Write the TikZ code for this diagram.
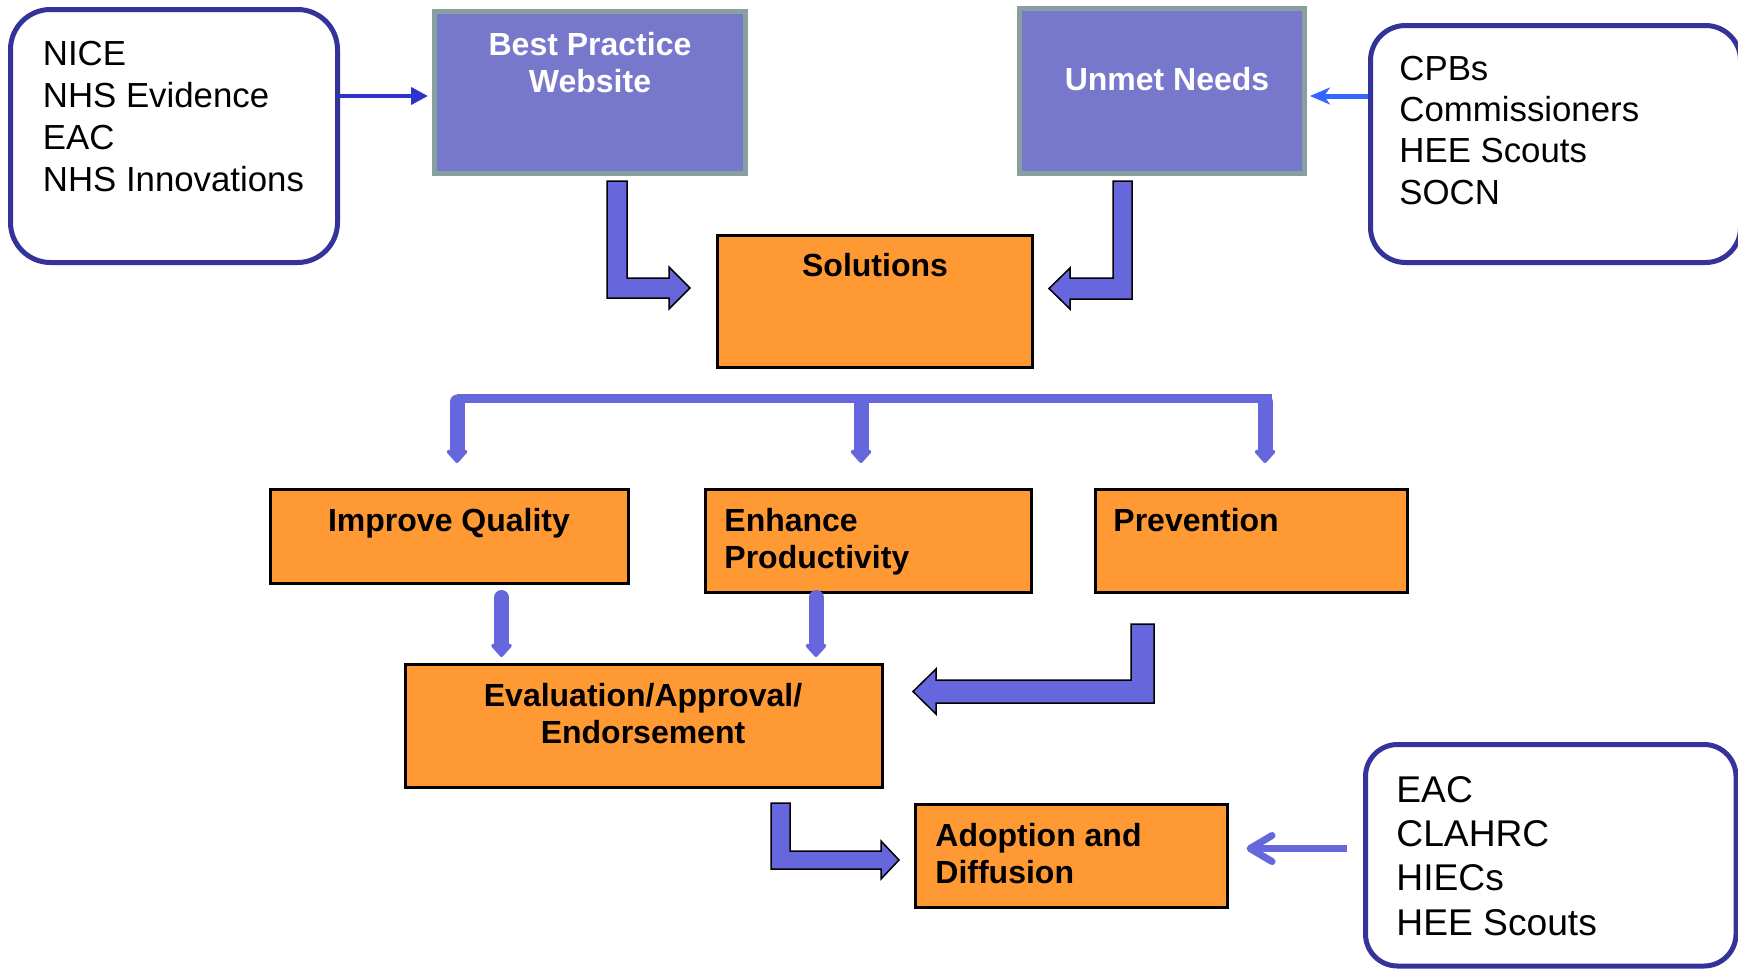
\documentclass[tikz,border=0pt]{standalone}
\usepackage{fontspec}
\setmainfont{Liberation Sans}
\usetikzlibrary{arrows.meta,fit}
\definecolor{orng}{HTML}{FF9933}
\definecolor{purp}{HTML}{7777CC}
\definecolor{grayb}{HTML}{88A0A0}
\definecolor{blk}{HTML}{6666DD}
\definecolor{navy}{HTML}{333399}
\definecolor{conA}{HTML}{3333CC}
\definecolor{conB}{HTML}{3366FF}
\newcommand\lstack[1]{\vtop{\halign{##\hfil\cr#1\crcr}}}
\newcommand\cstack[1]{\vtop{\halign{\hfil##\hfil\cr#1\crcr}}}
\begin{document}
\begin{tikzpicture}[x=0.5pt,y=-0.5pt,
  obox/.style={draw=black, line width=1.5pt, fill=orng, inner sep=0pt},
  pbox/.style={draw=grayb, line width=2.5pt, fill=purp, inner sep=0pt},
  rbox/.style={draw=navy, line width=2.5pt, rounded corners=20pt, fill=white, inner sep=0pt},
  btitle/.style={font=\fontsize{16}{18.8}\selectfont\bfseries, inner sep=0pt},
  wtitle/.style={btitle, text=white},
  rtext/.style={font=\fontsize{17.4}{21}\selectfont, inner sep=0pt, anchor=base west},
  larrow/.style={fill=blk, draw=black, line width=0.75pt, line join=miter},
  brk/.style={draw=blk, line width=7.5pt, line cap=round, -{Triangle[length=7pt,width=12pt,round]}}
]
\useasboundingbox (0,0) rectangle (1738,969);
\fill[white] (0,0) rectangle (1738,969);
\clip (0,0) rectangle (1738,969);

% rounded source boxes
\node[rbox, fit={(10.5,9.5) (337.5,262.5)}] (tl) {};
\node[rbox, rounded corners=17.5pt, fit={(1370.5,25.5) (1740.5,262.5)}] (tr) {};
\node[rbox, rounded corners=16pt, fit={(1365.5,744.5) (1736,966)}] (br) {};

% purple boxes
\node[pbox, fit={(434.5,11.5) (745.5,173.5)}] (bpw) {};
\node[pbox, fit={(1019.5,8.5) (1304.5,173.5)}] (un) {};

% orange boxes
\node[obox, fit={(717.5,235.5) (1032.5,367.5)}] (sol) {};
\node[obox, fit={(270.5,489.5) (628.5,583.5)}] (iq) {};
\node[obox, fit={(705.5,489.5) (1031.5,592.5)}] (ep) {};
\node[obox, fit={(1095.5,489.5) (1407.5,592.5)}] (prev) {};
\node[obox, fit={(405.5,664.5) (882.5,787.5)}] (eval) {};
\node[obox, fit={(915.5,804.5) (1227.5,907.5)}] (adopt) {};

% texts
\node[rtext] (tltx) at (42.5,65) {\lstack{NICE\cr NHS Evidence\cr EAC\cr NHS Innovations}};
\node[rtext, font=\fontsize{17.4}{20.7}\selectfont] (trtx) at (1399,80) {\lstack{CPBs\cr Commissioners\cr HEE Scouts\cr SOCN}};
\node[rtext, font=\fontsize{18.6}{22.2}\selectfont] (brtx) at (1396,802) {\lstack{EAC\cr CLAHRC\cr HIECs\cr HEE Scouts}};

\node[wtitle, anchor=base] (bptx) at (590,55) {\cstack{Best Practice\cr Website}};
\node[wtitle, anchor=base] (untx) at (1167,90) {Unmet Needs};
\node[btitle, anchor=base] (soltx) at (875,276) {Solutions};
\node[btitle, anchor=base] (iqtx) at (449,531) {Improve Quality};
\node[btitle, anchor=base west] (eptx) at (724,531) {\lstack{Enhance\cr Productivity}};
\node[btitle, anchor=base west] (prtx) at (1113,531) {Prevention};
\node[btitle, anchor=base] (evtx) at (643,706) {\cstack{Evaluation/Approval/\cr Endorsement}};
\node[btitle, anchor=base west] (adtx) at (935,846) {\lstack{Adoption and\cr Diffusion}};

% thin connectors
\draw[conA, line width=2pt, -{Triangle[length=8.5pt,width=8.5pt]}, shorten >=2pt]
  (tl.east |- 0,96) -- (bpw.west |- 0,96);
\draw[conB, line width=2.5pt, -{Stealth[length=10pt,width=8.5pt,inset=3pt]}, shorten >=1.5pt]
  (tr.west |- 0,96) -- (un.east |- 0,96);
\draw[blk, line width=3.5pt, -{Straight Barb[length=11pt,width=13pt,round]}, shorten >=8.75pt, shorten <=8pt]
  (br.west |- 0,848.5) -- (adopt.east |- 0,848.5);

% block L arrows
\draw[larrow] (607,181) -- (627,181) -- (627,278) -- (669,278) -- (669,267) -- (690,288)
  -- (669,309) -- (669,298) -- (607,298) -- cycle;
\draw[larrow] (1132,181) -- (1113,181) -- (1113,278) -- (1070,278) -- (1070,268) -- (1049,288.5)
  -- (1070,309) -- (1070,299) -- (1132,299) -- cycle;
\draw[larrow] (1154,624) -- (1131,624) -- (1131,680) -- (936,680) -- (936,669) -- (913,691.5)
  -- (936,714) -- (936,703) -- (1154,703) -- cycle;
\draw[larrow] (771,803) -- (790,803) -- (790,851) -- (881,851) -- (881,841) -- (899,860)
  -- (881,879) -- (881,869) -- (771,869) -- cycle;

% bracket
\draw[blk, line width=4.5pt] (457,398.5) -- (1272,398.5);
\draw[brk] (457,402) -- (457,463);
\draw[brk] (861,402) -- (861,463);
\draw[brk] (1265,402) -- (1265,463);

% down arrows into evaluation
\draw[brk] (501.5,597.5) -- (501.5,657);
\draw[brk] (816,597.5) -- (816,657);
\end{tikzpicture}
\end{document}
